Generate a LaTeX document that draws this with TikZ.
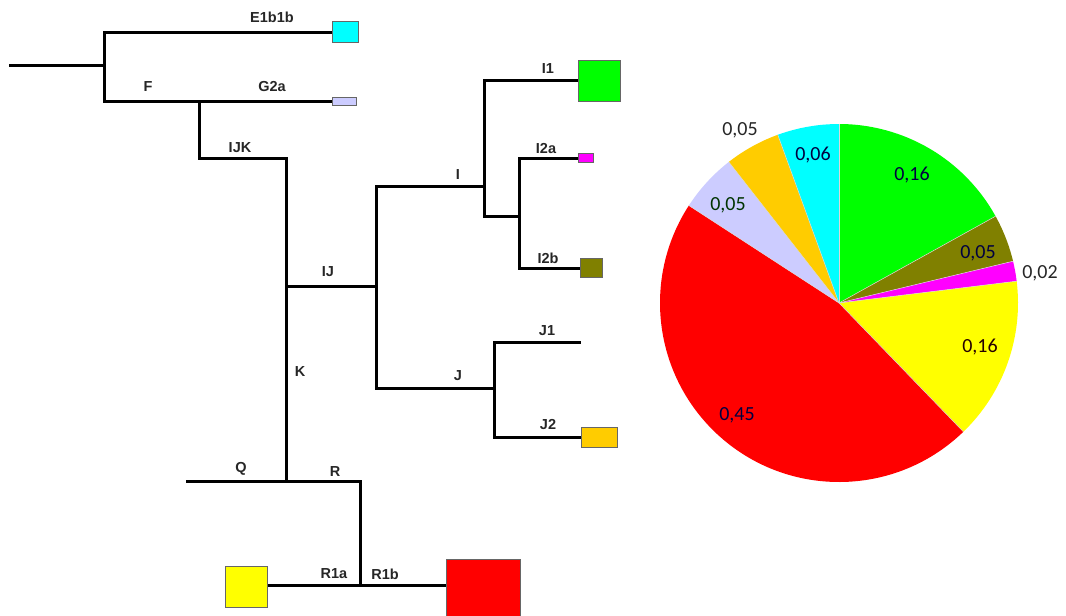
\documentclass[tikz,border=0pt]{standalone}
\usepackage{fontspec}
\setmainfont{Liberation Sans}
\newfontfamily\piefont{Carlito}
\usetikzlibrary{calc}
\begin{document}
\begin{tikzpicture}[x=1pt,y=-1pt,
  br/.style={line width=3pt, line cap=rect, line join=miter},
  lab/.style={font=\fontsize{14.5}{14.5}\selectfont\bfseries, inner sep=0pt, text=black!85},
  leafbox/.style={draw=black!60, line width=0.8pt, inner sep=0pt, anchor=west},
  plab/.style={font=\piefont\fontsize{20}{20}\selectfont, inner sep=0pt, text=black!75!blue},
  olab/.style={font=\piefont\fontsize{20}{20}\selectfont, inner sep=0pt, text=black!85}]
\useasboundingbox (0,0) rectangle (1066,616);
\definecolor{cCyan}{RGB}{0,255,255}
\definecolor{cLav}{RGB}{204,204,255}
\definecolor{cGreen}{RGB}{0,255,0}
\definecolor{cMag}{RGB}{255,0,255}
\definecolor{cOlive}{RGB}{128,128,0}
\definecolor{cOrange}{RGB}{255,204,0}
\definecolor{cYellow}{RGB}{255,255,0}
\definecolor{cRed}{RGB}{255,0,0}

% ---------- tree coordinates ----------
\coordinate (root) at (10,65);
\coordinate (n0) at (104,65);
\coordinate (e) at (104,32);
\coordinate (eE) at (332,32);
\coordinate (f) at (104,101);
\coordinate (fG) at (199,101);
\coordinate (gE) at (332,101);
\coordinate (ijk) at (199,158);
\coordinate (ijk2) at (286,158);
\coordinate (kIJ) at (286,286);
\coordinate (kQR) at (286,481);
\coordinate (ij) at (376,286);
\coordinate (iTop) at (376,186);
\coordinate (jBot) at (376,388);
\coordinate (iN) at (484,186);
\coordinate (i1) at (484,80);
\coordinate (i1E) at (578,80);
\coordinate (i2) at (484,216);
\coordinate (i2j) at (519,216);
\coordinate (i2a) at (519,158);
\coordinate (i2aE) at (578,158);
\coordinate (i2b) at (519,268);
\coordinate (i2bE) at (580,268);
\coordinate (jN) at (494,388);
\coordinate (j1) at (494,342);
\coordinate (j1E) at (579,342);
\coordinate (j2) at (494,437);
\coordinate (j2E) at (581,437);
\coordinate (q) at (187,481);
\coordinate (r) at (360,481);
\coordinate (r1) at (360,585);
\coordinate (r1aE) at (268,585);
\coordinate (r1bE) at (446,585);

% ---------- branches ----------
\draw[br] (root) -- (n0);
\draw[br] (eE) -- (e) -- (f) -- (gE);
\draw[br] (fG) -- (ijk) -- (ijk2) -- (kQR);
\draw[br] (kIJ) -- (ij);
\draw[br] (iTop) -- (jBot);
\draw[br] (iTop) -- (iN);
\draw[br] (i1E) -- (i1) -- (i2) -- (i2j);
\draw[br] (i2aE) -- (i2a) -- (i2b) -- (i2bE);
\draw[br] (jBot) -- (jN);
\draw[br] (j1E) -- (j1) -- (j2) -- (j2E);
\draw[br] (q) -- (r) -- (r1);
\draw[br] (r1aE) -- (r1bE);

% ---------- leaf boxes ----------
\node[leafbox, fill=cCyan, minimum width=26pt, minimum height=21pt] (bE) at (eE) {};
\node[leafbox, fill=cLav, minimum width=24pt, minimum height=8pt] (bG) at (gE) {};
\node[leafbox, fill=cGreen, minimum width=42pt, minimum height=41pt] (bI1) at ($(i1E)+(0,0.5)$) {};
\node[leafbox, fill=cMag, minimum width=15pt, minimum height=9pt] (bI2a) at (i2aE) {};
\node[leafbox, fill=cOlive, minimum width=22pt, minimum height=19pt] (bI2b) at (i2bE) {};
\node[leafbox, fill=cOrange, minimum width=36pt, minimum height=20pt] (bJ2) at (j2E) {};
\node[leafbox, fill=cYellow, minimum width=42pt, minimum height=41pt, anchor=east] (bR1a) at ($(r1aE)+(0,1.5)$) {};
\node[leafbox, fill=cRed, minimum width=74pt, minimum height=70pt] (bR1b) at ($(r1bE)+(0,9)$) {};

% ---------- labels ----------
\node[lab] (tE) at (272,17) {E1b1b};
\node[lab] (tF) at (148,87) {F};
\node[lab] (tG) at (272,87) {G2a};
\node[lab] (tIJK) at (240,148) {IJK};
\node[lab] (tIJ) at (328,272) {IJ};
\node[lab] (tK) at (300,372) {K};
\node[lab] (tI) at (458,175) {I};
\node[lab] (tI1) at (548,69) {I1};
\node[lab] (tI2a) at (546,149) {I2a};
\node[lab] (tI2b) at (548,258) {I2b};
\node[lab] (tJ) at (458,376) {J};
\node[lab] (tJ1) at (547,331) {J1};
\node[lab] (tJ2) at (548,425) {J2};
\node[lab] (tQ) at (241,469) {Q};
\node[lab] (tR) at (335,472) {R};
\node[lab] (tR1a) at (334,574) {R1a};
\node[lab] (tR1b) at (385,574) {R1b};

% ---------- pie (visual angles negated because y points down) ----------
\coordinate (pc) at (839,303);
\def\pr{179}
\foreach \a/\b/\c in {90/29/cGreen, 29/13.5/cOlive, 13.5/7/cMag, 7/-46/cYellow,
  -46/-213/cRed, -213/-232/cLav, -232/-250/cOrange, -250/-270/cCyan}{
  \fill[\c] (pc) -- ++(-\a:\pr) arc[start angle=-\a, end angle=-\b, radius=\pr] -- cycle;
}
\foreach \a in {90,29,13.5,7,-46,-213,-232,-250}{
  \draw[white!70!gray, line width=0.5pt] (pc) -- ++(-\a:\pr);
}

\node[plab] (p1) at (912,175) {0,16};
\node[plab] (p2) at (978,253) {0,05};
\node[olab] (p3) at (1040,273) {0,02};
\node[plab, text=black!85!red] (p4) at (980,347) {0,16};
\node[plab] (p5) at (737,415) {0,45};
\node[plab, text=black!80!green] (p6) at (728,205) {0,05};
\node[olab] (p7) at (740,130) {0,05};
\node[plab] (p8) at (813,155) {0,06};
\end{tikzpicture}
\end{document}
